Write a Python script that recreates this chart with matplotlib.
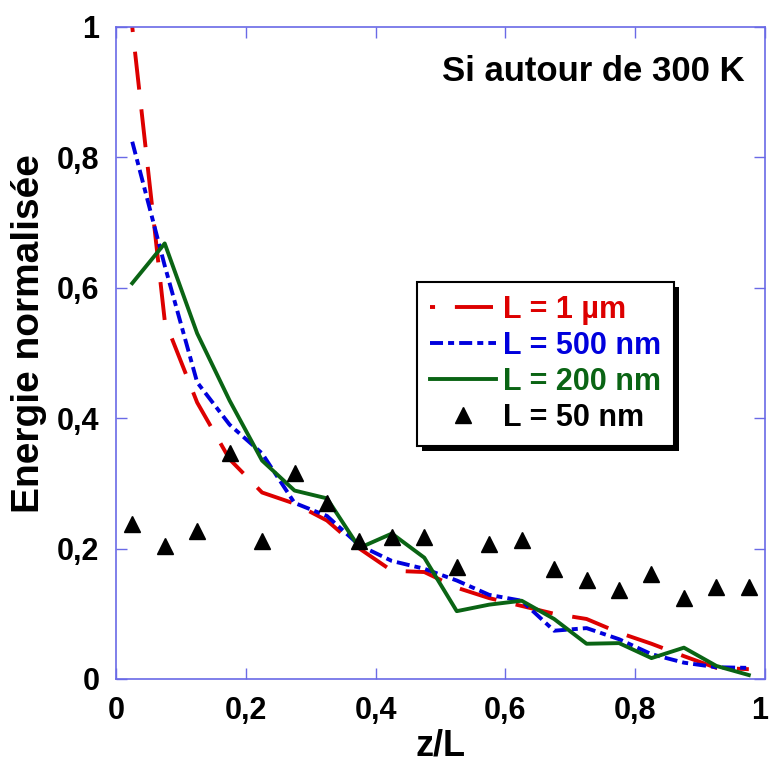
import matplotlib
matplotlib.use('Agg')
import matplotlib.pyplot as plt
from matplotlib.patches import Rectangle
from matplotlib.transforms import IdentityTransform, ScaledTranslation

plt.rcParams['font.family'] = ['Liberation Sans', 'DejaVu Sans']
plt.rcParams['font.weight'] = 'bold'

# z/L positions (bin centres)
z = [0.025, 0.075, 0.125, 0.175, 0.225, 0.275, 0.325, 0.375, 0.425, 0.475,
     0.525, 0.575, 0.625, 0.675, 0.725, 0.775, 0.825, 0.875, 0.925, 0.975]

# normalised energy for each length
e_1um = [1.0, 0.55, 0.424, 0.337, 0.286, 0.269, 0.243, 0.200, 0.166, 0.164,
         0.140, 0.124, 0.112, 0.100, 0.092, 0.071, 0.054, 0.035, 0.017, 0.015]
e_500nm = [0.824, 0.634, 0.455, 0.390, 0.346, 0.270, 0.250, 0.205, 0.181, 0.169,
           0.151, 0.129, 0.120, 0.074, 0.078, 0.061, 0.038, 0.025, 0.018, 0.017]
e_200nm = [0.607, 0.668, 0.530, 0.427, 0.335, 0.289, 0.277, 0.201, 0.223, 0.186,
           0.104, 0.114, 0.120, 0.092, 0.054, 0.055, 0.032, 0.048, 0.020, 0.006]
e_50nm = [0.237, 0.204, 0.227, 0.346, 0.212, 0.316, 0.270, 0.212, 0.218, 0.218,
          0.172, 0.207, 0.213, 0.169, 0.152, 0.137, 0.161, 0.124, 0.141, 0.141]

labels = ['L = 1 µm', 'L = 500 nm', 'L = 200 nm', 'L = 50 nm']
colors = ['#dd0000', '#0000dd', '#0a6414', 'black']
xticks = [0, 0.2, 0.4, 0.6, 0.8, 1]
tick_labels = ['0', '0,2', '0,4', '0,6', '0,8', '1']

fig = plt.figure(figsize=(7.72, 7.64), dpi=100)
ax = fig.add_axes([0.1503, 0.1113, 0.8407, 0.8534])

lw = 2.8
ax.plot(z, e_1um, color=colors[0], lw=lw, linestyle=(8.5, (9.8, 5.1)), label=labels[0])
ax.plot(z, e_500nm, color=colors[1], lw=lw, linestyle=(0, (3.35, 1.3, 1.55, 1.3)), label=labels[1])
ax.plot(z, e_200nm, color=colors[2], lw=lw, label=labels[2])
ax.plot(z, e_50nm, linestyle='none', marker='^', markersize=12, color='black', label=labels[3])

ax.set_xlim(0, 1)
ax.set_ylim(0, 1)
ax.set_xticks(xticks)
ax.set_xticklabels(tick_labels)
ax.set_yticks(xticks)
ax.set_yticklabels(tick_labels)

spine_col = '#6a6ae6'
for s in ax.spines.values():
    s.set_color(spine_col)
    s.set_linewidth(1.2)
ax.tick_params(direction='in', length=8, width=1, color=spine_col,
               top=True, right=True, labelsize=22)
ax.tick_params(axis='x', pad=12)
ax.tick_params(axis='y', pad=12)
for t in ax.get_xticklabels() + ax.get_yticklabels():
    t.set_fontweight('bold')

# nudge the last x tick label so it stays inside the figure
last = ax.get_xticklabels()[-1]
last.set_transform(last.get_transform() + ScaledTranslation(-4 / 72, 0, fig.dpi_scale_trans))

ax.set_xlabel('z/L', fontsize=26, fontweight='bold')
ax.set_ylabel('Energie normalisée', fontsize=28, fontweight='bold')
ax.xaxis.set_label_coords(0.5, -0.076)
ax.yaxis.set_label_coords(-0.107, 0.53)

ax.text(0.969, 0.931, 'Si autour de 300 K', transform=ax.transAxes,
        ha='right', va='center', fontsize=25, fontweight='bold')

leg = ax.legend(loc='upper left', bbox_to_anchor=(0.540, 0.631),
                bbox_transform=fig.transFigure, borderaxespad=0,
                fontsize=22, handlelength=2.16, handletextpad=0.25,
                labelspacing=0.2, borderpad=0.42, fancybox=False,
                framealpha=1, edgecolor='black')
leg.get_frame().set_linewidth(1.5)
for txt, c in zip(leg.get_texts(), colors):
    txt.set_color(c)
    txt.set_fontweight('bold')

# black drop shadow behind the legend box
fig.canvas.draw()
bb = leg.get_window_extent()
shadow = Rectangle((bb.x0 + 5, bb.y0 - 5), bb.width, bb.height,
                   transform=IdentityTransform(), facecolor='black',
                   edgecolor='none', zorder=4.9, clip_on=False)
ax.add_artist(shadow)

fig.savefig('out.png', dpi=100)
